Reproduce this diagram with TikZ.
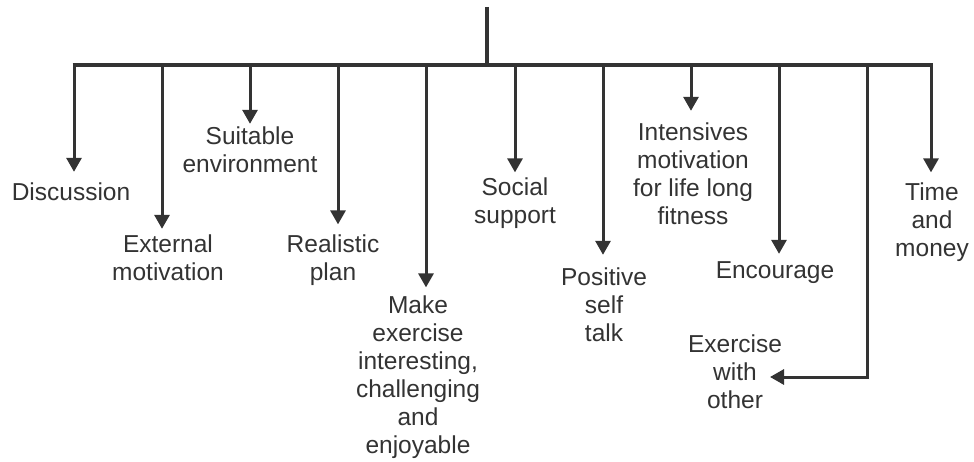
\documentclass[tikz,border=0pt]{standalone}
\usepackage{fontspec}
\setmainfont{Liberation Sans}
\usetikzlibrary{arrows.meta}
\definecolor{mvgrey}{HTML}{333333}
\begin{document}
\begin{tikzpicture}[x=1pt,y=-1pt,
  lbl/.style={align=center,font=\fontsize{24.5}{28}\selectfont,text=mvgrey,inner sep=3pt},
  arr/.style={-{Triangle[length=14pt,width=15pt]},draw=mvgrey,line width=3pt},
  trunk/.style={draw=mvgrey,line width=3.6pt}]
\useasboundingbox (0,0) rectangle (974,462);
\coordinate (top) at (487,7);\coordinate (mid) at (487,65);
\coordinate (bl) at (72.5,65);\coordinate (br) at (932.5,65);
\foreach \n/\x in {b1/74,b2/162,b3/250,b4/338,b5/426,b6/515,b7/603,b8/691,b9/779,b10/867,b11/931}
  \coordinate (\n) at (\x,65);
\coordinate (exw) at (770,377);
% labels
\node[lbl] (disc) at (71,192) {Discussion};\node[lbl] (ext) at (168,258) {External\\motivation};
\node[lbl] (suit) at (250,150) {Suitable\\environment};\node[lbl] (real) at (333,260) {Realistic\\plan};
\node[lbl] (make) at (418,377) {Make\\exercise\\interesting,\\challenging\\and\\enjoyable};
\node[lbl] (soc) at (515,203) {Social\\support};\node[lbl] (pos) at (604,305) {Positive\\self\\talk};
\node[lbl] (intv) at (693,174) {Intensives\\motivation\\for life long\\fitness};
\node[lbl] (enc) at (775,273) {Encourage};\node[lbl] (exo) at (735,372) {Exercise\\with\\other};
\node[lbl] (tim) at (932,222) {Time\\and\\money};
% trunk and branches
\draw[trunk] (top) -- (mid);\draw[trunk] (bl) -- (br);
\foreach \b/\t/\s in {b1/disc/8,b2/ext/3,b3/suit/0,b4/real/7,b5/make/5,b6/soc/2,b7/pos/10,b8/intv/9,b9/enc/5,b11/tim/7}
  \draw[arr,shorten >=\s pt] (\b) -- (\b |- \t.north);
\draw[arr] (b10) |- (exw);
\end{tikzpicture}
\end{document}
